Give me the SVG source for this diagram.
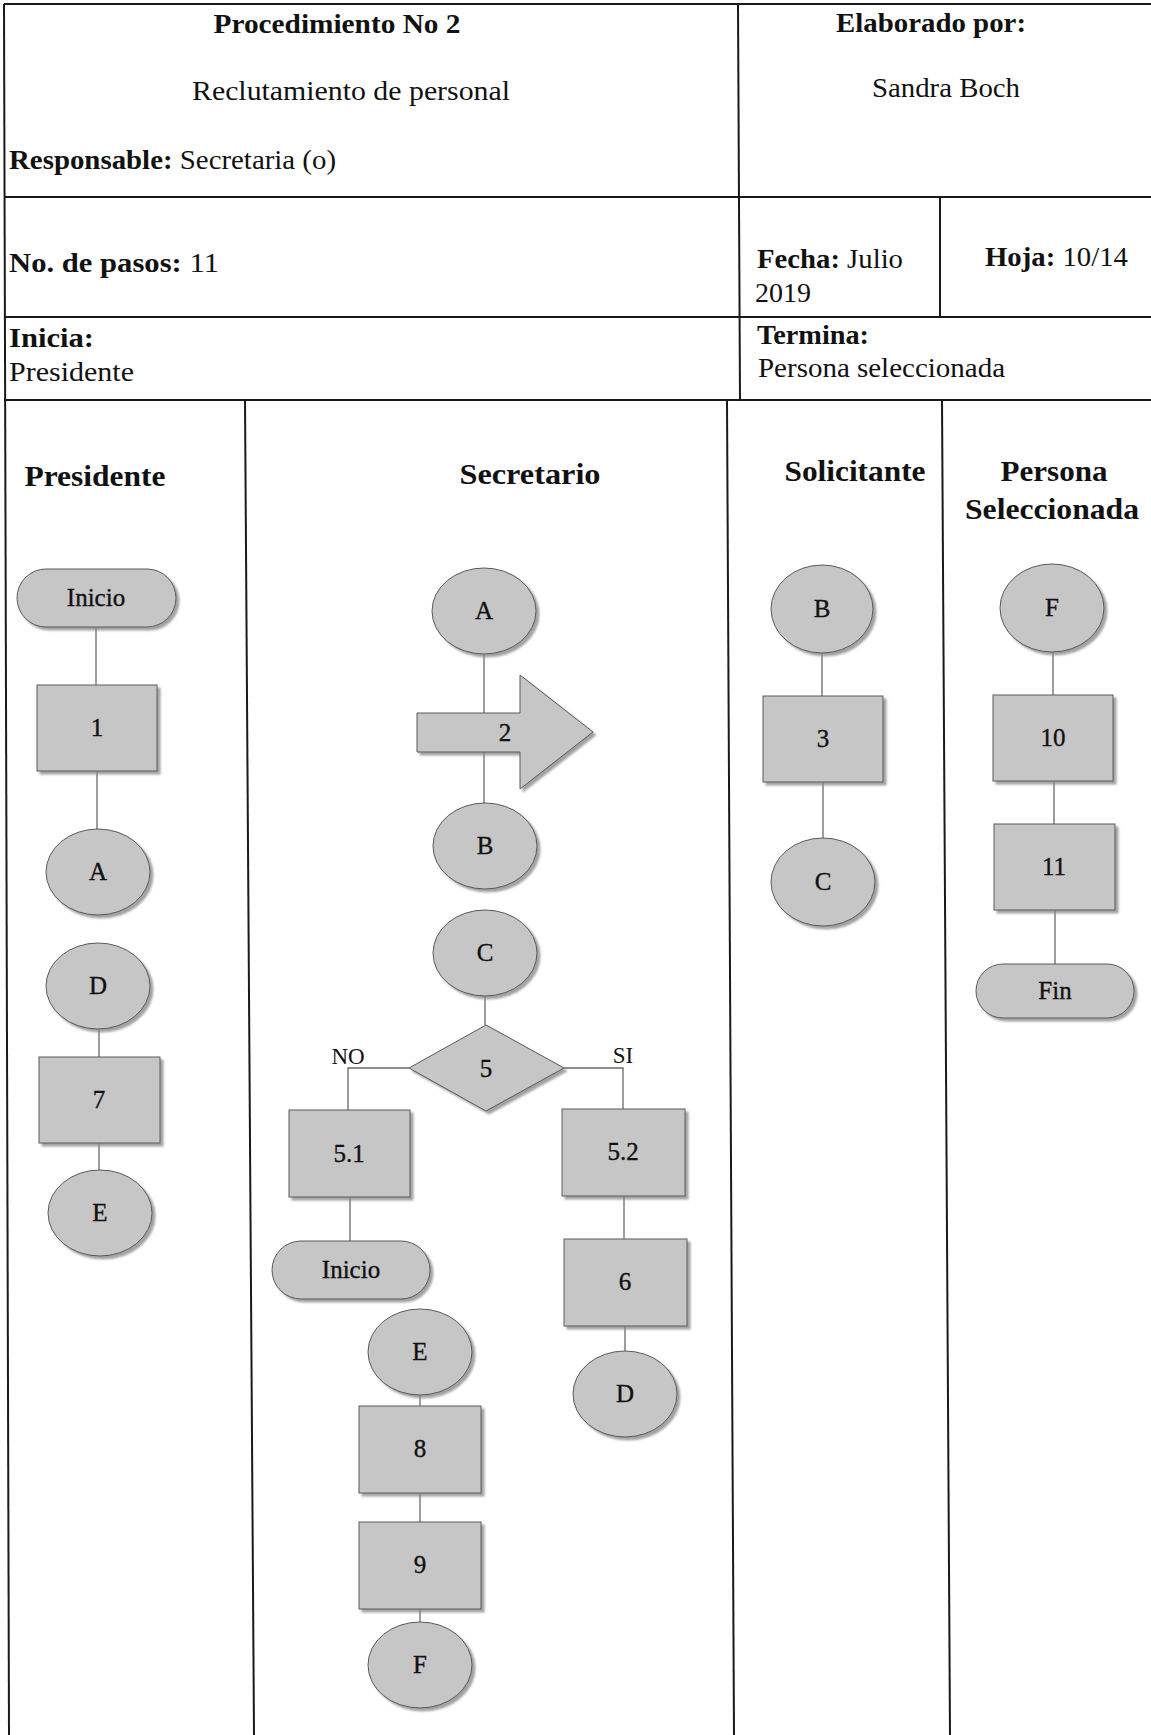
<svg xmlns="http://www.w3.org/2000/svg" width="1151" height="1735" viewBox="0 0 1151 1735">
<style>
.frame{stroke:#1a1a1a;stroke-width:2;fill:none}
.hb{font-family:"Liberation Serif",serif;font-size:27px;font-weight:bold;fill:#111}
.hr{font-family:"Liberation Serif",serif;font-size:27px;fill:#111}
.lane{font-family:"Liberation Serif",serif;font-size:30px;font-weight:bold;fill:#111;text-anchor:middle}
.shape{fill:#c6c6c6;stroke:#5a5a5a;stroke-width:1;filter:url(#sh)}
.lbl{font-family:"Liberation Serif",serif;font-size:25px;fill:#111;stroke:#111;stroke-width:0.35;text-anchor:middle}
.conn{stroke:#6a6a6a;stroke-width:1.3;fill:none}
.yn{font-family:"Liberation Serif",serif;font-size:23px;fill:#111;text-anchor:middle}
</style>
<defs>
<filter id="sh" x="-10%" y="-10%" width="125%" height="125%">
<feDropShadow dx="3" dy="3" stdDeviation="1.2" flood-color="#8a8a8a" flood-opacity="0.8"/>
</filter>
</defs>
<rect width="1151" height="1735" fill="#ffffff"/>

<g id="header">
<line class="frame" x1="4" y1="4" x2="1151" y2="4"/>
<line class="frame" x1="4" y1="197" x2="1151" y2="197"/>
<line class="frame" x1="4" y1="317" x2="1151" y2="317"/>
<line class="frame" x1="4" y1="400" x2="1151" y2="400"/>
<line class="frame" x1="738" y1="4" x2="740" y2="400"/>
<line class="frame" x1="940" y1="197" x2="940" y2="317"/>
<text class="hb" x="337" y="33" text-anchor="middle" textLength="247" lengthAdjust="spacingAndGlyphs">Procedimiento No 2</text>
<text class="hr" x="351" y="100" text-anchor="middle" textLength="318" lengthAdjust="spacingAndGlyphs">Reclutamiento de personal</text>
<text x="9" y="169" textLength="327" lengthAdjust="spacingAndGlyphs"><tspan class="hb">Responsable:</tspan><tspan class="hr"> Secretaria (o)</tspan></text>
<text class="hb" x="931" y="32" text-anchor="middle" textLength="190" lengthAdjust="spacingAndGlyphs">Elaborado por:</text>
<text class="hr" x="946" y="97" text-anchor="middle" textLength="148" lengthAdjust="spacingAndGlyphs">Sandra Boch</text>
<text x="9" y="272" textLength="210" lengthAdjust="spacingAndGlyphs"><tspan class="hb">No. de pasos:</tspan><tspan class="hr">  11</tspan></text>
<text x="757" y="268" textLength="146" lengthAdjust="spacingAndGlyphs"><tspan class="hb">Fecha:</tspan><tspan class="hr"> Julio</tspan></text>
<text class="hr" x="755" y="302" textLength="56" lengthAdjust="spacingAndGlyphs">2019</text>
<text x="985" y="266" textLength="143" lengthAdjust="spacingAndGlyphs"><tspan class="hb">Hoja:</tspan><tspan class="hr"> 10/14</tspan></text>
<text class="hb" x="9" y="347" textLength="85" lengthAdjust="spacingAndGlyphs">Inicia:</text>
<text class="hr" x="9" y="381" textLength="125" lengthAdjust="spacingAndGlyphs">Presidente</text>
<text class="hb" x="757" y="344" textLength="112" lengthAdjust="spacingAndGlyphs">Termina:</text>
<text class="hr" x="758" y="377" textLength="247" lengthAdjust="spacingAndGlyphs">Persona seleccionada</text>
</g>

<g id="lanes">
<line class="frame" x1="4" y1="4" x2="9" y2="1735"/>
<line class="frame" x1="245" y1="400" x2="254" y2="1735"/>
<line class="frame" x1="727" y1="400" x2="734" y2="1735"/>
<line class="frame" x1="942" y1="400" x2="950" y2="1735"/>
<text class="lane" x="95" y="486" textLength="141" lengthAdjust="spacingAndGlyphs">Presidente</text>
<text class="lane" x="530" y="484" textLength="141" lengthAdjust="spacingAndGlyphs">Secretario</text>
<text class="lane" x="855" y="481" textLength="141" lengthAdjust="spacingAndGlyphs">Solicitante</text>
<text class="lane" x="1054" y="481" textLength="107" lengthAdjust="spacingAndGlyphs">Persona</text>
<text class="lane" x="1052" y="519" textLength="174" lengthAdjust="spacingAndGlyphs">Seleccionada</text>
</g>

<g id="connectors">
<line class="conn" x1="96" y1="627" x2="96" y2="685"/>
<line class="conn" x1="97" y1="771" x2="97" y2="829"/>
<line class="conn" x1="99" y1="1029" x2="99" y2="1057"/>
<line class="conn" x1="99" y1="1143" x2="99" y2="1170"/>
<line class="conn" x1="484" y1="654" x2="484" y2="803"/>
<line class="conn" x1="485" y1="996" x2="485" y2="1025"/>
<polyline class="conn" points="409,1068 348,1068 348,1110"/>
<polyline class="conn" points="564,1068 623,1068 623,1109"/>
<line class="conn" x1="350" y1="1197" x2="350" y2="1241"/>
<line class="conn" x1="624" y1="1196" x2="624" y2="1239"/>
<line class="conn" x1="625" y1="1326" x2="625" y2="1351"/>
<line class="conn" x1="420" y1="1395" x2="420" y2="1406"/>
<line class="conn" x1="420" y1="1493" x2="420" y2="1522"/>
<line class="conn" x1="420" y1="1609" x2="420" y2="1622"/>
<line class="conn" x1="822" y1="653" x2="822" y2="696"/>
<line class="conn" x1="823" y1="782" x2="823" y2="838"/>
<line class="conn" x1="1053" y1="652" x2="1053" y2="695"/>
<line class="conn" x1="1054" y1="781" x2="1054" y2="824"/>
<line class="conn" x1="1055" y1="910" x2="1055" y2="964"/>
<text class="yn" x="348" y="1064">NO</text>
<text class="yn" x="623" y="1063">SI</text>
</g>

<g id="n_inicio1"><rect class="shape" x="17" y="569" width="159" height="58" rx="29"/><text class="lbl" x="96" y="606">Inicio</text></g>
<g id="n_1"><rect class="shape" x="37" y="685" width="120" height="86"/><text class="lbl" x="97" y="736">1</text></g>
<g id="n_A1"><ellipse class="shape" cx="98" cy="872" rx="52" ry="43"/><text class="lbl" x="98" y="880">A</text></g>
<g id="n_D1"><ellipse class="shape" cx="98" cy="986" rx="52" ry="43"/><text class="lbl" x="98" y="994">D</text></g>
<g id="n_7"><rect class="shape" x="39" y="1057" width="121" height="86"/><text class="lbl" x="99" y="1108">7</text></g>
<g id="n_E1"><ellipse class="shape" cx="100" cy="1213" rx="52" ry="43"/><text class="lbl" x="100" y="1221">E</text></g>

<g id="n_A2"><ellipse class="shape" cx="484" cy="611" rx="52" ry="43"/><text class="lbl" x="484" y="619">A</text></g>
<g id="n_2"><path class="shape" d="M417,713 L520,713 L520,675 L593,732 L520,789 L520,752 L417,752 Z"/><text class="lbl" x="505" y="741">2</text></g>
<g id="n_B2"><ellipse class="shape" cx="485" cy="846" rx="52" ry="43"/><text class="lbl" x="485" y="854">B</text></g>
<g id="n_C2"><ellipse class="shape" cx="485" cy="953" rx="52" ry="43"/><text class="lbl" x="485" y="961">C</text></g>
<g id="n_5"><path class="shape" d="M486,1025 L564,1068 L486,1111 L409,1068 Z"/><text class="lbl" x="486" y="1077">5</text></g>
<g id="n_51"><rect class="shape" x="289" y="1110" width="121" height="87"/><text class="lbl" x="349" y="1162">5.1</text></g>
<g id="n_inicio2"><rect class="shape" x="272" y="1241" width="158" height="58" rx="29"/><text class="lbl" x="351" y="1278">Inicio</text></g>
<g id="n_52"><rect class="shape" x="562" y="1109" width="123" height="87"/><text class="lbl" x="623" y="1160">5.2</text></g>
<g id="n_6"><rect class="shape" x="564" y="1239" width="123" height="87"/><text class="lbl" x="625" y="1290">6</text></g>
<g id="n_D2"><ellipse class="shape" cx="625" cy="1394" rx="52" ry="43"/><text class="lbl" x="625" y="1402">D</text></g>
<g id="n_E2"><ellipse class="shape" cx="420" cy="1352" rx="52" ry="43"/><text class="lbl" x="420" y="1360">E</text></g>
<g id="n_8"><rect class="shape" x="359" y="1406" width="122" height="87"/><text class="lbl" x="420" y="1457">8</text></g>
<g id="n_9"><rect class="shape" x="359" y="1522" width="122" height="87"/><text class="lbl" x="420" y="1573">9</text></g>
<g id="n_F2"><ellipse class="shape" cx="420" cy="1665" rx="52" ry="43"/><text class="lbl" x="420" y="1673">F</text></g>

<g id="n_B3"><ellipse class="shape" cx="822" cy="609" rx="51" ry="44"/><text class="lbl" x="822" y="617">B</text></g>
<g id="n_3"><rect class="shape" x="763" y="696" width="120" height="86"/><text class="lbl" x="823" y="747">3</text></g>
<g id="n_C3"><ellipse class="shape" cx="823" cy="882" rx="52" ry="44"/><text class="lbl" x="823" y="890">C</text></g>

<g id="n_F4"><ellipse class="shape" cx="1052" cy="608" rx="52" ry="44"/><text class="lbl" x="1052" y="616">F</text></g>
<g id="n_10"><rect class="shape" x="993" y="695" width="120" height="86"/><text class="lbl" x="1053" y="746">10</text></g>
<g id="n_11"><rect class="shape" x="994" y="824" width="121" height="86"/><text class="lbl" x="1054" y="875">11</text></g>
<g id="n_fin"><rect class="shape" x="976" y="964" width="158" height="54" rx="27"/><text class="lbl" x="1055" y="999">Fin</text></g>
</svg>
